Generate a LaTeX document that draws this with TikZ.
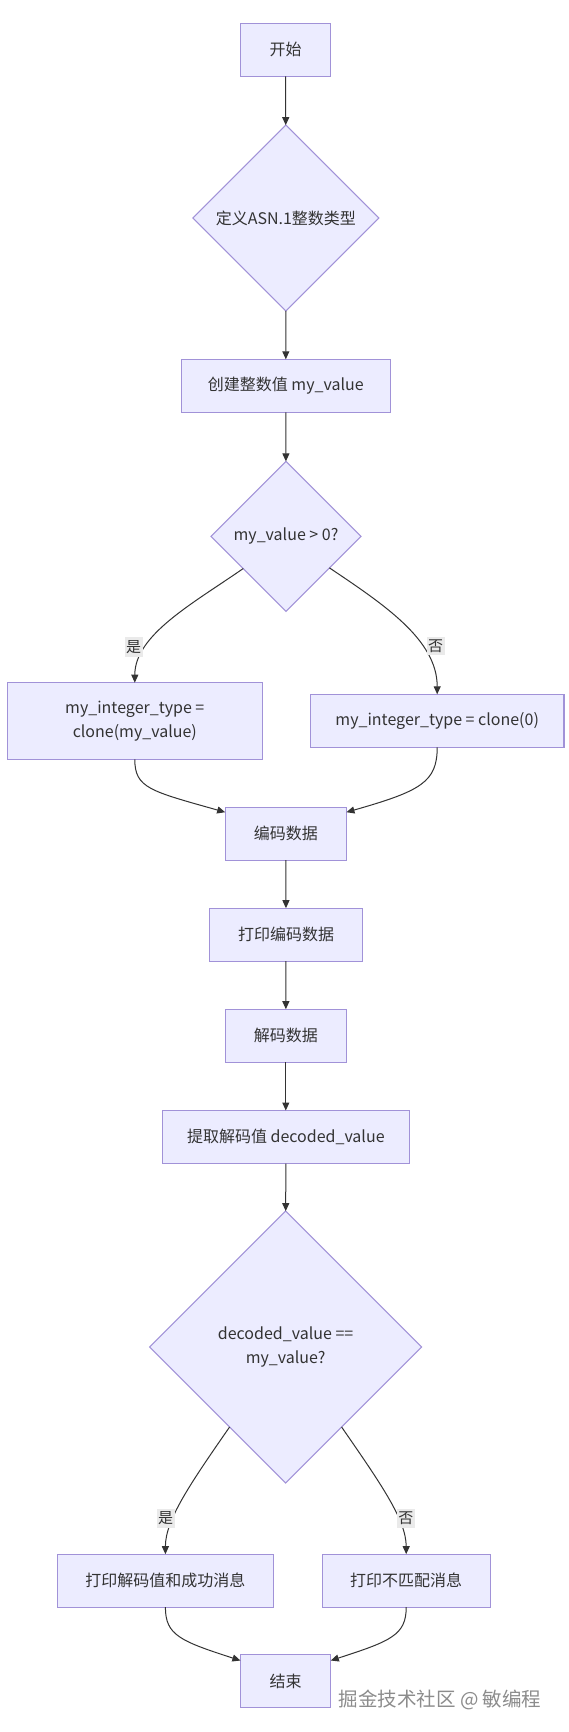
\documentclass[tikz,border=0pt]{standalone}
\usepackage{fontspec}
\setmainfont{Noto Sans CJK SC}
\usetikzlibrary{shapes.geometric,arrows.meta,calc}
\definecolor{nodefill}{HTML}{ECECFF}
\definecolor{nodeline}{HTML}{A192D8}
\definecolor{edgecol}{HTML}{333333}
\definecolor{lblbg}{HTML}{EAEAEA}
\definecolor{wmark}{HTML}{8C8C8C}
\begin{document}
\begin{tikzpicture}[x=1pt,y=-1pt,
  box/.style={draw=nodeline, fill=nodefill, line width=1.1pt, text=edgecol,
    font=\fontsize{16}{23.4}\selectfont, inner sep=0pt, outer sep=0pt,
    align=center, minimum height=53pt},
  dia/.style={diamond, draw=nodeline, fill=nodefill, line width=1.1pt, text=edgecol,
    font=\fontsize{16}{23.4}\selectfont, inner sep=0pt, outer sep=0pt,
    align=center, aspect=1},
  flow/.style={draw=edgecol, line width=1pt, -{Triangle[length=8pt,width=7pt]}},
  lbl/.style={fill=lblbg, text=edgecol, font=\fontsize{15}{17}\selectfont,
    inner xsep=1.5pt, inner ysep=3pt}
]
\useasboundingbox (0,0) rectangle (568,1732);
\fill[white] (0,0) rectangle (568,1732);

\node[box, minimum width=90.4pt] (start) at (285.6,49.8) {开始};
\node[dia, minimum width=186pt, minimum height=186pt] (d1) at (285.9,218) {定义ASN.1整数类型};
\node[box, minimum width=208.8pt] (create) at (285.8,385.8) {创建整数值 my\_value};
\node[dia, minimum width=150pt, minimum height=150pt] (d2) at (286,536.3) {my\_value > 0?};
\node[box, minimum width=255pt, minimum height=76.6pt] (yes) at (134.8,721) {my\_integer\_type =\\clone(my\_value)};
\node[box, minimum width=253.5pt] (no) at (437.2,720.8) {my\_integer\_type = clone(0)};
\node[box, minimum width=121.3pt] (enc) at (285.8,833.7) {编码数据};
\node[box, minimum width=153pt] (penc) at (286,934.7) {打印编码数据};
\node[box, minimum width=121.3pt] (dec) at (285.8,1035.7) {解码数据};
\node[box, minimum width=247.4pt] (extract) at (285.8,1137) {提取解码值 decoded\_value};
\node[dia, minimum width=272pt, minimum height=272pt] (d3) at (285.6,1347) {decoded\_value ==\\my\_value?};
\node[box, minimum width=215.6pt] (succ) at (165.4,1580.7) {打印解码值和成功消息};
\node[box, minimum width=168.3pt] (mis) at (406.2,1580.7) {打印不匹配消息};
\node[box, minimum width=90.4pt] (end) at (285.6,1681.3) {结束};

\draw[flow] (start) -- (d1);
\draw[flow] (d1) -- (create);
\draw[flow] (create) -- (d2);
\draw[flow] (d2.217) .. controls (192,604) and (134.8,635) .. (yes.north);
\draw[flow] (d2.-36) .. controls (384.7,605) and (437.2,640) .. (no.north);
\draw[flow] (yes.south) .. controls (134.8,788) and (150,791) .. ($(enc.north west)+(0,5)$);
\draw[flow] (no.south) .. controls (437.2,782) and (421,791) .. ($(enc.north east)+(0,5)$);
\draw[flow] (enc) -- (penc);
\draw[flow] (penc) -- (dec);
\draw[flow] (dec) -- (extract);
\draw[flow] (extract) -- (d3);
\draw[flow] (d3.235.4) .. controls (190,1484) and (165.4,1520) .. (succ.north);
\draw[flow] (d3.-55.4) .. controls (381,1484) and (406.2,1520) .. (mis.north);
\draw[flow] (succ.south) .. controls (165.4,1635) and (180,1641) .. ($(end.north west)+(0,5.7)$);
\draw[flow] (mis.south) .. controls (406.2,1635) and (391,1641) .. ($(end.north east)+(0,5.7)$);

\node[lbl] (l1) at (133.5,647) {是};
\node[lbl] (l2) at (435.5,646) {否};
\node[lbl] (l3) at (165.6,1518.3) {是};
\node[lbl] (l4) at (405.8,1518.3) {否};

\node[text=wmark, font=\fontsize{19.5}{22}\selectfont, inner sep=0pt] (wm) at (440,1700) {掘金技术社区 @ 敏编程};
\end{tikzpicture}
\end{document}
